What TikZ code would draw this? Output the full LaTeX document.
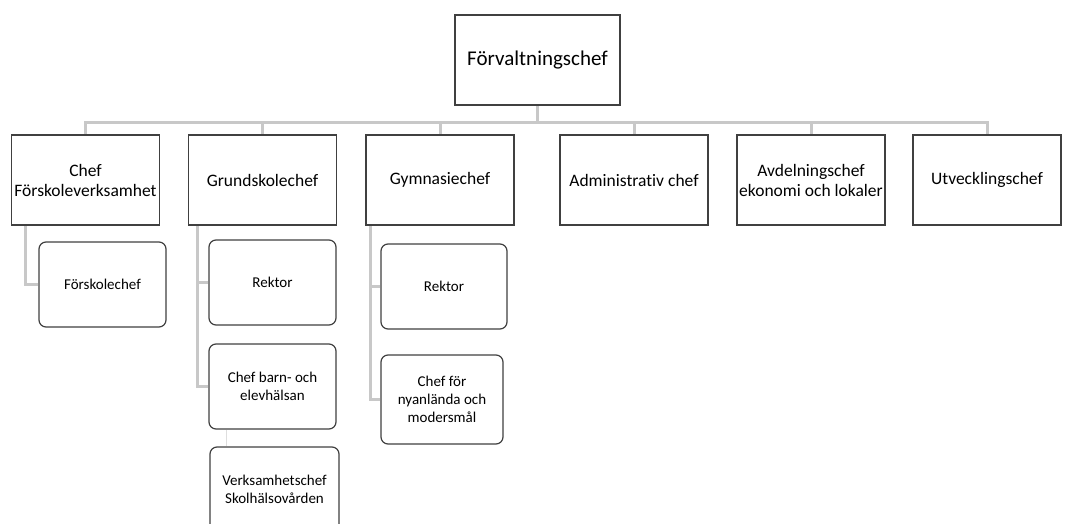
\documentclass[tikz,border=0pt]{standalone}
\usepackage{fontspec}
\setmainfont{Carlito}[Ligatures=NoCommon]
\usetikzlibrary{positioning,backgrounds}
\definecolor{boxline}{HTML}{404040}
\definecolor{linkgray}{HTML}{C8C8C8}

\begin{document}
\begin{tikzpicture}[x=1pt,y=-1pt,
    head/.style={draw=boxline,fill=white,line width=1.2pt,minimum width=165pt,
      minimum height=90pt,inner sep=0pt,font=\fontsize{21}{25}\selectfont},
    unit/.style={draw=boxline,fill=white,line width=1.2pt,minimum width=148pt,
      minimum height=90pt,inner sep=0pt,align=center,font=\fontsize{17.5}{20}\selectfont},
    sub/.style={draw=boxline,fill=white,line width=1.2pt,rounded corners=7pt,
      minimum width=127pt,minimum height=85pt,inner sep=0pt,align=center,
      font=\fontsize{15}{18}\selectfont},
    link/.style={draw=linkgray,line width=3pt}]
  \path[use as bounding box,clip] (0,0) rectangle (1073,524);

  % top
  \node[head] (fchef) at (537.5,60) {Förvaltningschef};

  % first level
  \node[unit] (forsk) at (85.5,180) {Chef\\Förskoleverksamhet};
  \node[unit] (grund) at (262.5,180) {Grundskolechef};
  \node[unit] (gymn) at (440,180) {Gymnasiechef};
  \node[unit] (admin) at (634,180) {Administrativ chef};
  \node[unit] (avdel) at (811,180) {Avdelningschef\\ekonomi och lokaler};
  \node[unit] (utveck) at (987,180) {Utvecklingschef};

  % second level
  \node[sub] (forskchef) at (102.5,284.5) {Förskolechef};
  \node[sub] (rektorg) at (272.5,282.5) {Rektor};
  \node[sub] (elevh) at (272.5,386.5) {Chef barn- och\\elevhälsan};
  \node[sub] (skolh) at (274.5,489.5) [minimum width=129pt] {Verksamhetschef\\Skolhälsovården};
  \node[sub] (rektory) at (444,286.5) [minimum width=126pt] {Rektor};
  \node[sub] (nyanl) at (442,399.5) [minimum width=122pt,minimum height=89pt]
    {Chef för\\nyanlända och\\modersmål};

  \begin{scope}[on background layer]
    \foreach \c in {forsk,grund,gymn,admin,avdel,utveck}
      \draw[link] (fchef.south) -- ++(0,17) -| (\c.north);
    \draw[link] ([xshift=15pt]forsk.south west) |- (forskchef.west);
    \draw[link] ([xshift=10pt]grund.south west) |- (rektorg.west);
    \draw[link] ([xshift=10pt]grund.south west) |- (elevh.west);
    \draw[link] ([xshift=5pt]gymn.south west) |- (rektory.west);
    \draw[link] ([xshift=5pt]gymn.south west) |- (nyanl.west);
    \draw[draw=linkgray!60,line width=1pt]
      ([xshift=-46.5pt]elevh.south) -- ([xshift=-48.5pt]skolh.north);
  \end{scope}
\end{tikzpicture}
\end{document}
